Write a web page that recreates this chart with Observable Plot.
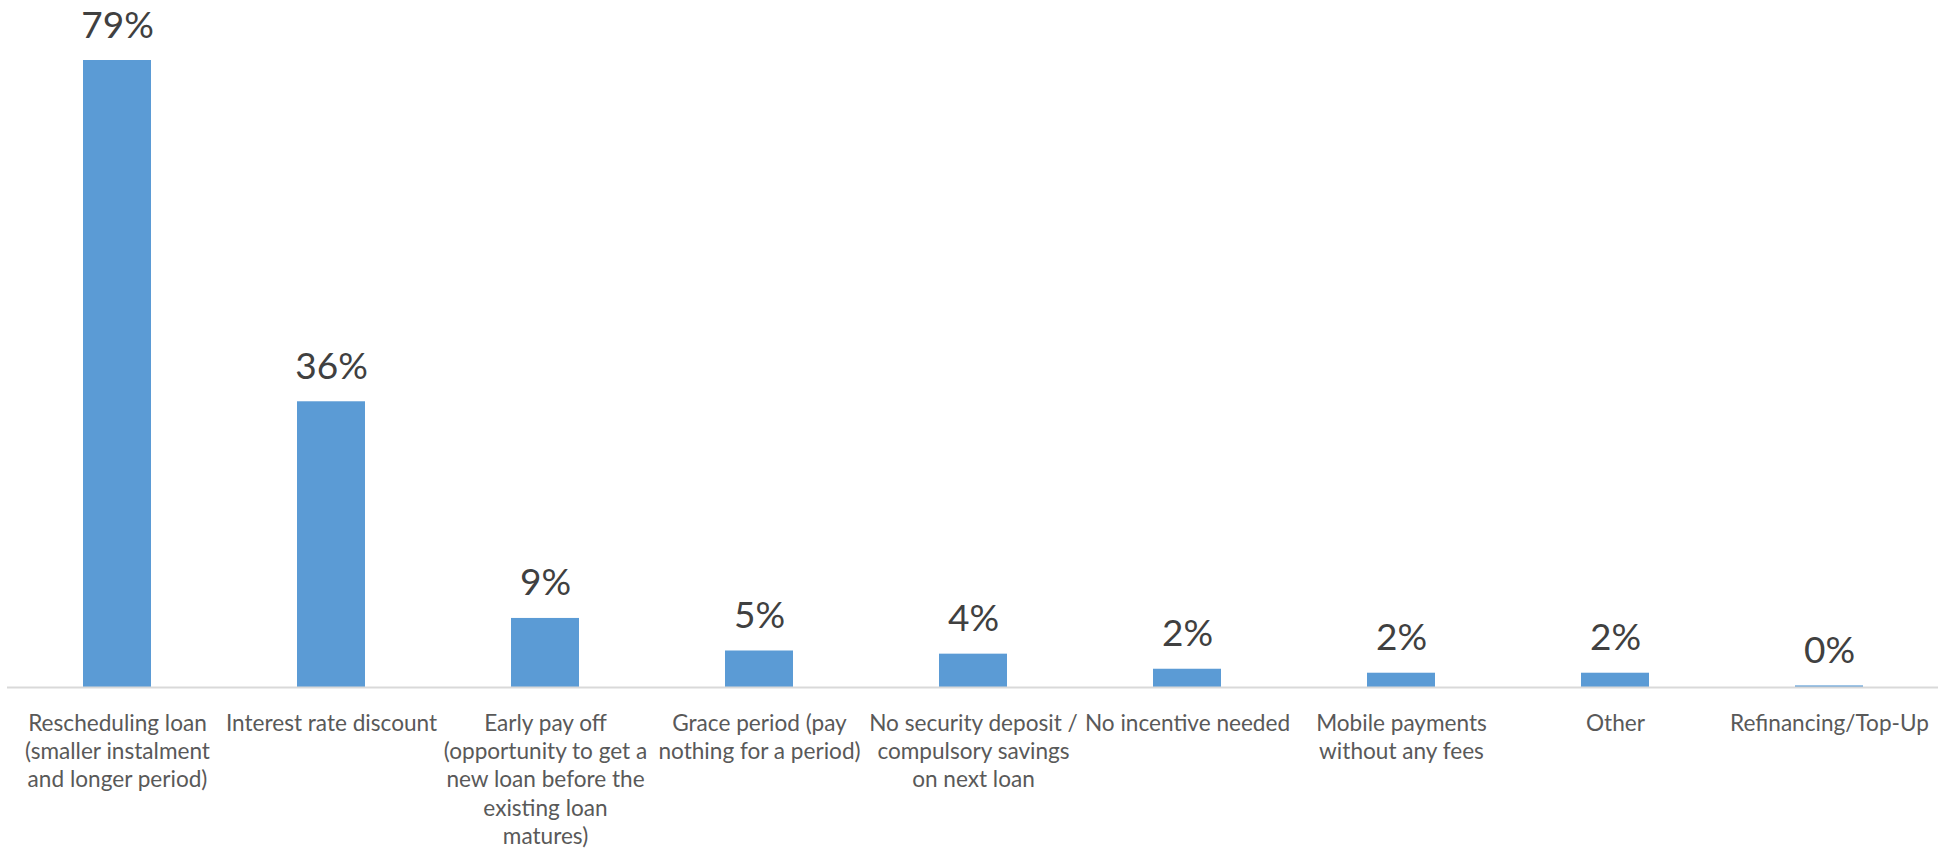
<!DOCTYPE html>
<html>
<head>
<meta charset="utf-8">
<script src="https://cdn.jsdelivr.net/npm/d3@7"></script>
<script src="https://cdn.jsdelivr.net/npm/@observablehq/plot@0.6"></script>
<style>
  html, body { margin: 0; padding: 0; background: #ffffff; overflow: hidden; }
  #chart svg { display: block; }
</style>
</head>
<body>
<div id="chart"></div>
<script>
const categories = [
  "Rescheduling loan\n(smaller instalment\nand longer period)",
  "Interest rate discount",
  "Early pay off\n(opportunity to get a\nnew loan before the\nexisting loan\nmatures)",
  "Grace period (pay\nnothing for a period)",
  "No security deposit /\ncompulsory savings\non next loan",
  "No incentive needed",
  "Mobile payments\nwithout any fees",
  "Other",
  "Refinancing/Top-Up"
];
const values = [79.0, 36.0, 8.7, 4.6, 4.2, 2.3, 1.8, 1.8, 0.2];
const valueLabels = ["79%", "36%", "9%", "5%", "4%", "2%", "2%", "2%", "0%"];

const data = categories.map((c, i) => ({category: c, value: values[i], label: valueLabels[i]}));

const catFont = 22.6;
const valFont = 37;

const chart = Plot.plot({
  width: 1941,
  height: 849,
  marginTop: 60,
  marginBottom: 162,
  marginLeft: 7,
  marginRight: 3,
  style: {fontFamily: "Lato, 'Open Sans', sans-serif", background: "#ffffff"},
  x: {domain: categories, paddingInner: 0.683, paddingOuter: 0.3415, axis: null},
  y: {domain: [0, 79], axis: null},
  marks: [
    Plot.barY(data, {x: "category", y: "value", fill: "#5B9BD5"}),
    Plot.ruleY([0], {stroke: "#D9D9D9", strokeWidth: 2}),
    Plot.text(data, {
      x: "category", y: "value", text: "label",
      dy: -23, lineAnchor: "bottom", textAnchor: "middle",
      fontSize: valFont, fill: "#404040"
    }),
    Plot.text(data, {
      x: "category", y: () => 0, text: "category",
      dy: 39 - 0.71 * catFont, lineAnchor: "top", textAnchor: "middle",
      lineHeight: 28.4 / catFont, fontSize: catFont, fill: "#595959"
    })
  ]
});
document.getElementById("chart").appendChild(chart);
</script>
</body>
</html>
